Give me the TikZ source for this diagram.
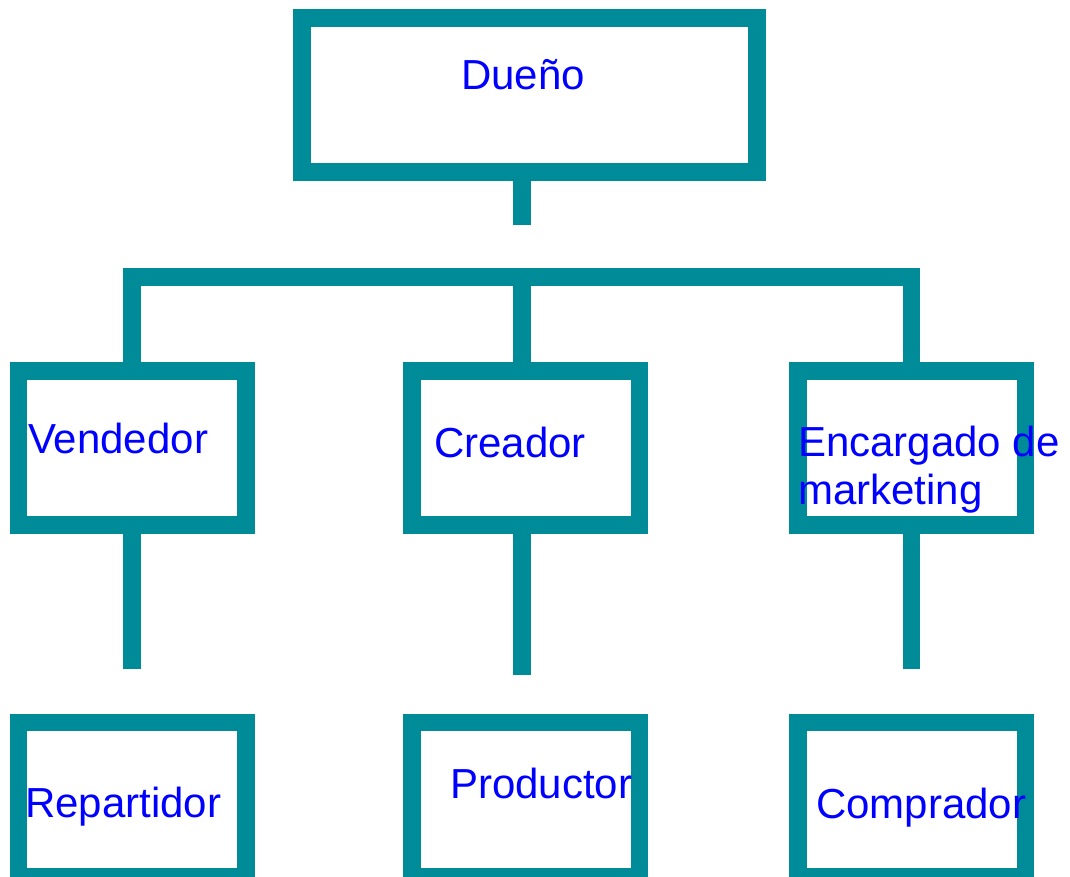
\documentclass[tikz,border=0pt]{standalone}
\usepackage{fontspec}
\setmainfont{Liberation Sans}
\definecolor{orgteal}{RGB}{0,139,153}

\begin{document}
\begin{tikzpicture}[x=1pt, y=-1pt,
		puesto/.style={rectangle, draw=orgteal, line width=17.5pt, minimum width=227.5pt, minimum height=154pt, inner sep=0pt},
		enlace/.style={draw=orgteal, line width=17.5pt},
		rotulo/.style={anchor=base west, inner sep=0pt, text=blue, font=\fontsize{42}{48}\selectfont}]
		\useasboundingbox (0,0) rectangle (1070,877);

		\node (dueno) [puesto, minimum width=455pt] at (529.5,95) {};
		\node (vendedor) [puesto] at (132,448) {};
		\node (creador) [puesto] at (525.5,448) {};
		\node (encargado) [puesto] at (911.5,448) {};
		\node (repartidor) [puesto] at (132,799.5) {};
		\node (productor) [puesto] at (525.5,799.5) {};
		\node (comprador) [puesto] at (911.5,799.5) {};

		\coordinate (dueno-fin) at (522,225);
		\coordinate (barra) at (522,277);
		\coordinate (vendedor-fin) at (132,669);
		\coordinate (creador-fin) at (522,675);
		\coordinate (encargado-fin) at (911.5,669);

		\draw [enlace] (dueno.south -| dueno-fin) -- (dueno-fin);
		\draw [enlace] (vendedor.north) |- (barra) -| (encargado.north);
		\draw [enlace] (barra) -- (barra |- creador.north);
		\draw [enlace] (vendedor.south) -- (vendedor-fin);
		\draw [enlace] (creador.south -| creador-fin) -- (creador-fin);
		\draw [enlace] (encargado.south) -- (encargado-fin);

		\node (t-dueno) [rotulo] at (461,90) {Dueño};
		\node (t-vendedor) [rotulo] at (28,453) {Vendedor};
		\node (t-creador) [rotulo] at (434,457) {Creador};
		\node (t-encargado) [rotulo] at (798,456) {Encargado de};
		\node (t-marketing) [rotulo] at (798,504) {marketing};
		\node (t-repartidor) [rotulo] at (25,817) {Repartidor};
		\node (t-productor) [rotulo] at (450,798) {Productor};
		\node (t-comprador) [rotulo] at (816,818) {Comprador};
	\end{tikzpicture}
\end{document}
